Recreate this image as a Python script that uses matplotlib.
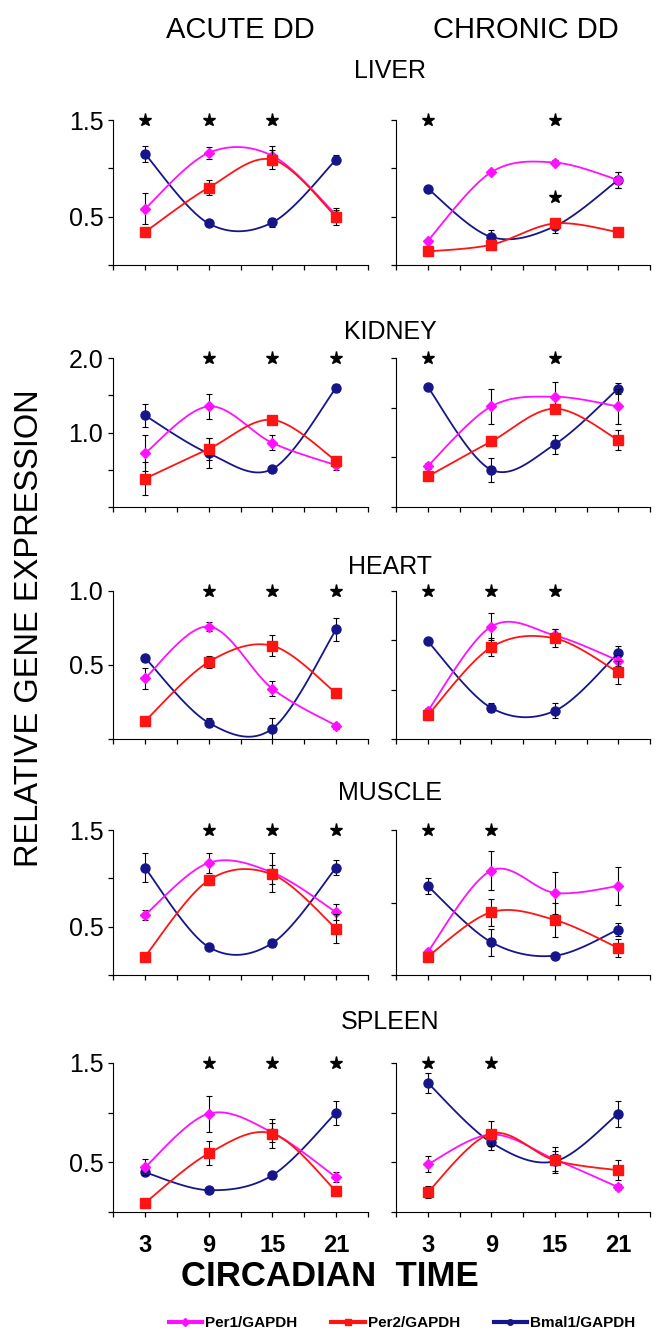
import numpy as np
import matplotlib.pyplot as plt
from matplotlib.lines import Line2D

plt.rcParams['font.family'] = ['Liberation Sans', 'DejaVu Sans']

ct = [3, 9, 15, 21]
genes = ['Per1/GAPDH', 'Per2/GAPDH', 'Bmal1/GAPDH']
organs = ['LIVER', 'KIDNEY', 'HEART', 'MUSCLE', 'SPLEEN']

# rows: Per1, Per2, Bmal1 ; columns: CT3, CT9, CT15, CT21
liver_acute = [[0.58, 1.16, 1.13, 0.52],
               [0.34, 0.80, 1.09, 0.50],
               [1.15, 0.43, 0.44, 1.09]]
liver_acute_err = [[0.16, 0.06, 0.10, 0.05],
                   [0.04, 0.08, 0.10, 0.09],
                   [0.08, 0.03, 0.05, 0.05]]
liver_chronic = [[0.25, 0.96, 1.06, 0.88],
                 [0.14, 0.21, 0.43, 0.34],
                 [0.79, 0.29, 0.40, 0.88]]
liver_chronic_err = [[0.02, 0.02, 0.03, 0.08],
                     [0.02, 0.02, 0.05, 0.02],
                     [0.02, 0.07, 0.07, 0.08]]

kidney_acute = [[0.72, 1.35, 0.86, 0.56],
                [0.38, 0.78, 1.17, 0.62],
                [1.23, 0.72, 0.51, 1.60]]
kidney_acute_err = [[0.24, 0.17, 0.10, 0.07],
                    [0.22, 0.15, 0.03, 0.05],
                    [0.15, 0.20, 0.04, 0.05]]
kidney_chronic = [[0.55, 1.35, 1.48, 1.35],
                  [0.41, 0.88, 1.32, 0.90],
                  [1.61, 0.50, 0.84, 1.59]]
kidney_chronic_err = [[0.04, 0.24, 0.20, 0.24],
                      [0.05, 0.04, 0.05, 0.13],
                      [0.04, 0.16, 0.13, 0.07]]

heart_acute = [[0.41, 0.76, 0.34, 0.09],
               [0.12, 0.52, 0.63, 0.31],
               [0.55, 0.11, 0.07, 0.74]]
heart_acute_err = [[0.07, 0.03, 0.05, 0.02],
                   [0.01, 0.04, 0.07, 0.02],
                   [0.02, 0.03, 0.07, 0.08]]
heart_chronic = [[0.19, 0.76, 0.70, 0.53],
                 [0.16, 0.62, 0.68, 0.45],
                 [0.66, 0.21, 0.19, 0.58]]
heart_chronic_err = [[0.02, 0.09, 0.04, 0.04],
                     [0.02, 0.06, 0.06, 0.08],
                     [0.02, 0.03, 0.05, 0.05]]

muscle_acute = [[0.62, 1.16, 1.06, 0.65],
                [0.19, 0.98, 1.04, 0.48],
                [1.11, 0.29, 0.33, 1.11]]
muscle_acute_err = [[0.05, 0.10, 0.20, 0.08],
                    [0.03, 0.05, 0.10, 0.15],
                    [0.15, 0.02, 0.04, 0.08]]
muscle_chronic = [[0.24, 1.08, 0.85, 0.92],
                  [0.19, 0.65, 0.57, 0.28],
                  [0.92, 0.34, 0.20, 0.47]]
muscle_chronic_err = [[0.02, 0.20, 0.22, 0.20],
                      [0.02, 0.14, 0.18, 0.09],
                      [0.08, 0.14, 0.03, 0.07]]

spleen_acute = [[0.45, 0.99, 0.80, 0.35],
                [0.09, 0.59, 0.79, 0.21],
                [0.40, 0.22, 0.37, 1.00]]
spleen_acute_err = [[0.08, 0.18, 0.10, 0.05],
                    [0.01, 0.12, 0.15, 0.02],
                    [0.02, 0.02, 0.02, 0.12]]
spleen_chronic = [[0.48, 0.78, 0.53, 0.25],
                  [0.20, 0.79, 0.52, 0.42],
                  [1.30, 0.70, 0.51, 0.99]]
spleen_chronic_err = [[0.08, 0.05, 0.05, 0.03],
                      [0.06, 0.13, 0.13, 0.10],
                      [0.10, 0.08, 0.10, 0.13]]

# significance stars (CT positions)
acute_stars = [[3, 9, 15], [9, 15, 21], [9, 15, 21], [9, 15, 21], [9, 15, 21]]
chronic_stars = [[3, 15], [3, 15], [3, 9, 15], [3, 9], [3, 9]]
liver_chronic_extra_star = (15, 0.7)

y_max = [1.5, 2.0, 1.0, 1.5, 1.5]
left_ticks = [[0, 0.5, 1.0, 1.5], [0, 0.5, 1.0, 1.5, 2.0], [0, 0.5, 1.0],
              [0, 0.5, 1.0, 1.5], [0, 0.5, 1.0, 1.5]]
left_labels = [['', '0.5', '', '1.5'], ['', '', '1.0', '', '2.0'], ['', '0.5', '1.0'],
               ['', '0.5', '', '1.5'], ['', '0.5', '', '1.5']]
right_intervals = [3, 3, 3, 2, 3]

colors = ['#ff10ff', '#ff1414', '#16168a']
markers = ['D', 's', 'o']
msizes = [5, 7, 6.5]
zorders = [4, 5, 3]

acute = [liver_acute, kidney_acute, heart_acute, muscle_acute, spleen_acute]
acute_err = [liver_acute_err, kidney_acute_err, heart_acute_err, muscle_acute_err, spleen_acute_err]
chronic = [liver_chronic, kidney_chronic, heart_chronic, muscle_chronic, spleen_chronic]
chronic_err = [liver_chronic_err, kidney_chronic_err, heart_chronic_err, muscle_chronic_err,
               spleen_chronic_err]


def smooth(x, y, n=40):
    # Excel-style smoothed line (cardinal bezier through the points)
    p = np.column_stack([x, y]).astype(float)
    out = []
    for i in range(len(p) - 1):
        p0 = p[i - 1] if i > 0 else p[i]
        p1, p2 = p[i], p[i + 1]
        p3 = p[i + 2] if i + 2 < len(p) else p[i + 1]
        c1 = p1 + (p2 - p0) / 6
        c2 = p2 - (p3 - p1) / 6
        t = np.linspace(0, 1, n)[:, None]
        seg = ((1 - t) ** 3) * p1 + 3 * ((1 - t) ** 2) * t * c1 + 3 * (1 - t) * t ** 2 * c2 + t ** 3 * p2
        out.append(seg)
    s = np.vstack(out)
    return s[:, 0], s[:, 1]


W, H = 658, 1332
fig = plt.figure(figsize=(W / 100, H / 100), dpi=100)

rows_px = [(120, 265), (358, 507), (591, 739), (830, 975), (1063, 1212)]
cols_px = [(113, 368), (396, 650)]
title_px = [71, 332, 567, 793, 1022]


def panel(ax, data, err, ymax, stars):
    for g in range(3):
        sx, sy = smooth(ct, data[g])
        ax.plot(sx, sy, color=colors[g], lw=1.3, zorder=zorders[g])
        ax.errorbar(ct, data[g], yerr=err[g], fmt='none', ecolor='black', elinewidth=0.8,
                    capsize=2.5, capthick=0.8, zorder=zorders[g] - 0.5)
        ax.plot(ct, data[g], linestyle='none', marker=markers[g], ms=msizes[g],
                color=colors[g], zorder=zorders[g] + 0.1)
    ax.plot(stars, [ymax] * len(stars), linestyle='none', marker='*', ms=9.5, color='black',
            clip_on=False)
    ax.set_xlim(0, 24)
    ax.set_ylim(0, ymax)
    ax.set_xticks(np.arange(0, 25, 3))
    ax.spines['top'].set_visible(False)
    ax.spines['right'].set_visible(False)
    ax.tick_params(direction='out', length=3.5, width=0.9)
    ax.tick_params(axis='x', labelbottom=False)


for r in range(5):
    top, bot = rows_px[r]
    for c in range(2):
        x0, x1 = cols_px[c]
        ax = fig.add_axes([x0 / W, 1 - bot / H, (x1 - x0) / W, (bot - top) / H])
        if c == 0:
            panel(ax, acute[r], acute_err[r], y_max[r], acute_stars[r])
            ax.set_yticks(left_ticks[r])
            ax.set_yticklabels(left_labels[r], fontsize=18)
        else:
            panel(ax, chronic[r], chronic_err[r], y_max[r], chronic_stars[r])
            ax.set_yticks(np.linspace(0, y_max[r], right_intervals[r] + 1))
            ax.set_yticklabels([])
            if r == 0:
                ax.plot(*liver_chronic_extra_star, marker='*', ms=9.5, color='black', zorder=6)
        if r == 4:
            ax.set_xticks(np.arange(0, 25, 3))
            ax.set_xticklabels(['' if t not in ct else str(t) for t in range(0, 25, 3)],
                               fontsize=17, fontweight='bold')
            ax.tick_params(axis='x', labelbottom=True, pad=12)
    fig.text(390 / W, 1 - title_px[r] / H, organs[r], fontsize=18, ha='center', va='center')

fig.text(240 / W, 1 - 30 / H, 'ACUTE DD', fontsize=21, ha='center', va='center')
fig.text(526 / W, 1 - 30 / H, 'CHRONIC DD', fontsize=21, ha='center', va='center')
fig.text(30 / W, 1 - 628 / H, 'RELATIVE GENE EXPRESSION', fontsize=23.5, rotation=90,
         ha='center', va='center')
fig.text(330 / W, 1 - 1276 / H, 'CIRCADIAN  TIME', fontsize=25, fontweight='bold',
         ha='center', va='center')

handles = [Line2D([], [], color=colors[g], lw=3, marker=markers[g], ms=4) for g in range(3)]
fig.legend(handles, genes, loc='center', bbox_to_anchor=(402 / W, 1 - 1323 / H), ncol=3,
           frameon=False, handlelength=2.2, handletextpad=0.2, columnspacing=2.2,
           prop={'weight': 'bold', 'size': 11})

fig.savefig('out.png', dpi=100)
